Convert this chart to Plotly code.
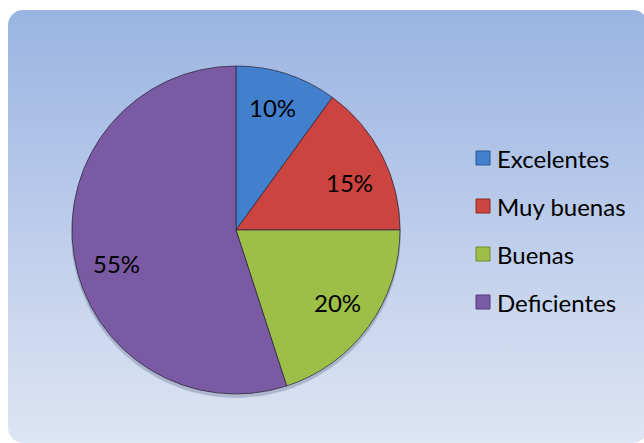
import numpy as np
import plotly.graph_objects as go

# ---- data ----
categories = ["Excelentes", "Muy buenas", "Buenas", "Deficientes"]
percentages = [10, 15, 20, 55]
slice_colors = ["#4280CE", "#CB443F", "#9DBF48", "#7A5AA3"]
legend_edge = ["#2C5A94", "#8E2B29", "#6E8A2E", "#54397A"]

# label placement: radial fraction of the radius and pixel nudge per slice
label_radius = 0.76
label_nudge = [(-2, -4), (2, 9), (1, -1), (4, 14)]

W, H = 644, 443
FONT = "Lato"

fig = go.Figure()


def rounded_rect(x0, y0, x1, y1, r, n=12):
    """Closed outline of a rounded rectangle in pixel space (y down)."""
    pts = []
    corners = [
        (x1 - r, y0 + r, -90, 0),
        (x1 - r, y1 - r, 0, 90),
        (x0 + r, y1 - r, 90, 180),
        (x0 + r, y0 + r, 180, 270),
    ]
    for cx_, cy_, a0, a1 in corners:
        for a in np.linspace(np.radians(a0), np.radians(a1), n):
            pts.append((cx_ + r * np.cos(a), cy_ + r * np.sin(a)))
    pts.append(pts[0])
    xs = [p[0] for p in pts]
    ys = [H - p[1] for p in pts]
    return xs, ys


# chart area background: rounded panel with a vertical blue gradient
bx, by = rounded_rect(8, 10, 648, 443, 15)
fig.add_trace(go.Scatter(
    x=bx, y=by, mode="lines", fill="toself",
    line=dict(width=0, color="rgba(0,0,0,0)"),
    fillgradient=dict(type="vertical",
                      colorscale=[[0, "#DEE5F3"], [1, "#9AB4E2"]]),
    hoverinfo="skip", showlegend=False,
))

# soft drop shadow under the pie
cx, cy, R = 236, 230, 164
t = np.linspace(0, 2 * np.pi, 120)
fig.add_trace(go.Scatter(
    x=cx + (R + 1) * np.cos(t), y=H - (cy + 3) - (R + 1) * np.sin(t),
    mode="lines", fill="toself",
    line=dict(width=0, color="rgba(0,0,0,0)"),
    fillcolor="rgba(70,80,110,0.28)",
    hoverinfo="skip", showlegend=False,
))

# the pie itself
fig.add_trace(go.Pie(
    labels=categories,
    values=percentages,
    sort=False,
    direction="clockwise",
    rotation=0,
    marker=dict(colors=slice_colors, line=dict(color="rgba(45,40,60,0.75)", width=1)),
    textinfo="none",
    domain=dict(x=[(cx - R) / W, (cx + R) / W],
                y=[(H - cy - R) / H, (H - cy + R) / H]),
    showlegend=False,
    hoverinfo="label+percent",
))

# percentage labels on the slices, placed along each slice's bisector
total = sum(percentages)
start = 0.0
for val, (dx, dy) in zip(percentages, label_nudge):
    mid = (start + val / 2) / total * 2 * np.pi  # clockwise from 12 o'clock
    start += val
    px = cx + label_radius * R * np.sin(mid) + dx
    py = cy - label_radius * R * np.cos(mid) + dy
    fig.add_annotation(x=px, y=H - py, xref="x", yref="y",
                       text=f"{val}%", showarrow=False,
                       xanchor="center", yanchor="middle",
                       font=dict(family=FONT, size=24, color="#000000"))

# legend: square swatch + label per category
row0, row_gap = 158, 48
for i, (name, col, edge) in enumerate(zip(categories, slice_colors, legend_edge)):
    yc = row0 + i * row_gap
    fig.add_shape(type="rect", xref="x", yref="y",
                  x0=476, x1=490, y0=H - (yc - 7), y1=H - (yc + 7),
                  fillcolor=col, line=dict(color=edge, width=1))
    fig.add_annotation(x=495, y=H - yc, xref="x", yref="y",
                       text=name, showarrow=False,
                       xanchor="left", yanchor="middle",
                       font=dict(family=FONT, size=24, color="#000000"))

fig.update_layout(
    width=W, height=H,
    margin=dict(l=0, r=0, t=0, b=0),
    paper_bgcolor="#FFFFFF",
    plot_bgcolor="rgba(0,0,0,0)",
    xaxis=dict(range=[0, W], visible=False, fixedrange=True, domain=[0, 1]),
    yaxis=dict(range=[0, H], visible=False, fixedrange=True, domain=[0, 1]),
    showlegend=False,
)

fig.write_html("out.html")
